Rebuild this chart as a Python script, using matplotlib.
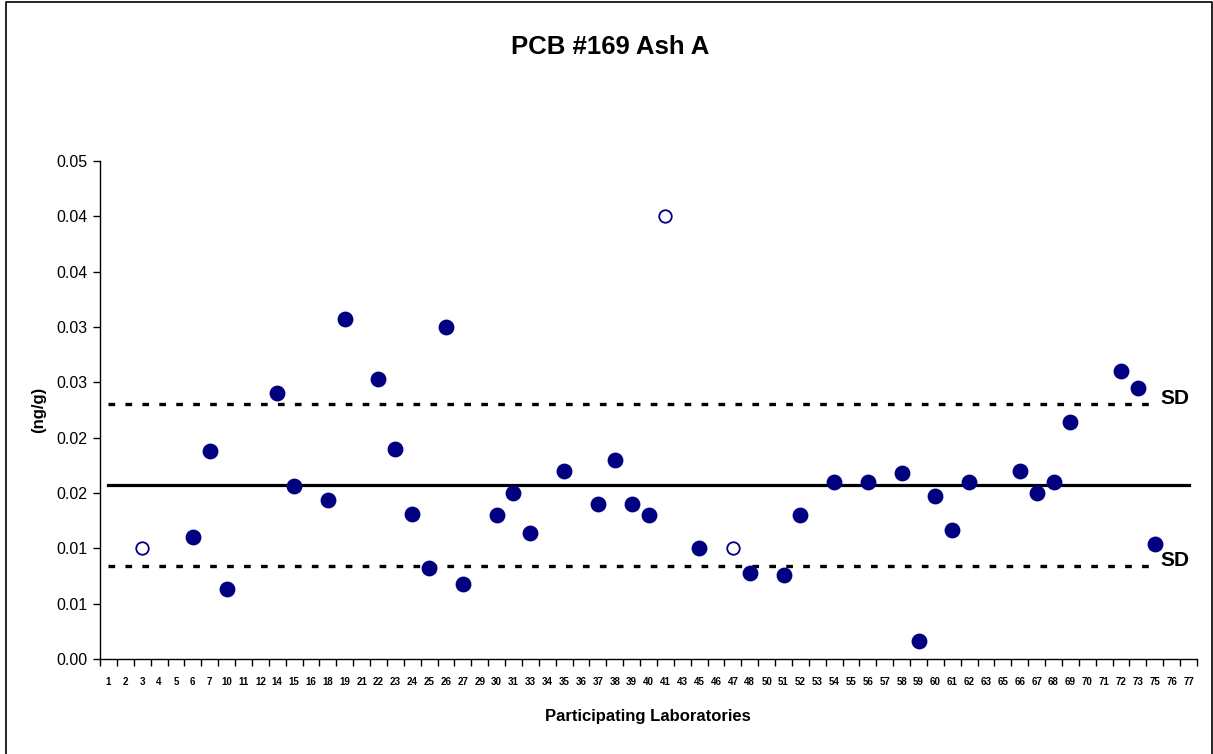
import numpy as np
import matplotlib
matplotlib.use("Agg")
import matplotlib.pyplot as plt
from matplotlib.lines import Line2D

plt.rcParams['font.family'] = ['Liberation Sans', 'DejaVu Sans']
plt.rcParams['lines.scale_dashes'] = False

# participating laboratory codes along the x axis
labs = ['1', '2', '3', '4', '5', '6', '7', '10', '11', '12', '14', '15', '16', '18',
        '19', '21', '22', '23', '24', '25', '26', '27', '29', '30', '31', '33', '34',
        '35', '36', '37', '38', '39', '40', '41', '43', '45', '46', '47', '48', '50',
        '51', '52', '53', '54', '55', '56', '57', '58', '59', '60', '61', '62', '63',
        '65', '66', '67', '68', '69', '70', '71', '72', '73', '75', '76', '77']

# reported results (ng/g)
used_labs = ['6', '7', '10', '14', '15', '18', '19', '22', '23', '24', '25', '26', '27',
             '30', '31', '33', '35', '37', '38', '39', '40', '45', '48', '51', '52', '54',
             '56', '58', '59', '60', '61', '62', '66', '67', '68', '69', '72', '73', '75']
used_vals = [0.0110, 0.0188, 0.0063, 0.0240, 0.0156, 0.0144, 0.0307, 0.0253, 0.0190,
             0.0131, 0.0082, 0.0300, 0.0068, 0.0130, 0.0150, 0.0114, 0.0170, 0.0140,
             0.0180, 0.0140, 0.0130, 0.0100, 0.0078, 0.0076, 0.0130, 0.0160, 0.0160,
             0.0168, 0.0016, 0.0147, 0.0117, 0.0160, 0.0170, 0.0150, 0.0160, 0.0214,
             0.0260, 0.0245, 0.0104]

# results excluded from the statistics
excl_labs = ['3', '41', '47']
excl_vals = [0.0100, 0.0400, 0.0100]

mean_val = 0.01573
sd_upper = 0.0230
sd_lower = 0.00837

yticks = [0.000, 0.005, 0.010, 0.015, 0.020, 0.025, 0.030, 0.035, 0.040, 0.045]
ytick_labels = ['0.00', '0.01', '0.01', '0.02', '0.02', '0.03', '0.03', '0.04', '0.04', '0.05']

navy = '#000080'

fig = plt.figure(figsize=(12.13, 7.54), dpi=100)
ax = fig.add_axes([100 / 1213, 1 - 659 / 754, 1097 / 1213, 498 / 754])

pos = {lab: i for i, lab in enumerate(labs)}
x_used = [pos[l] for l in used_labs]
x_excl = [pos[l] for l in excl_labs]
last = pos['75']

ax.plot([0, len(labs) - 1], [mean_val, mean_val], color='black', lw=2.3, zorder=2)
for sd in (sd_upper, sd_lower):
    ax.plot([0, last], [sd, sd], color='black', lw=2.4, dashes=(4.8, 7.4),
            solid_capstyle='butt', dash_capstyle='butt', zorder=2)
    ax.text(last + 0.35, sd, 'SD', fontsize=15, fontweight='bold', ha='left',
            va='baseline', zorder=3)

ax.plot(x_used, used_vals, 'o', color=navy, ms=10.4, mec=navy, zorder=4)
ax.plot(x_excl, excl_vals, 'o', mfc='white', mec=navy, ms=9.0, mew=1.3, zorder=4)

ax.set_xlim(-0.5, len(labs) - 0.5)
ax.set_ylim(0, 0.045)

# ticks sit between categories, labels sit under the categories
ax.set_xticks(np.arange(-0.5, len(labs), 1.0))
ax.set_xticklabels([])
ax.set_xticks(np.arange(len(labs)), minor=True)
ax.set_xticklabels(labs, minor=True, fontsize=7, fontweight='bold')
ax.tick_params(axis='x', which='major', direction='out', length=5, width=1)
ax.tick_params(axis='x', which='minor', length=0, pad=13)

ax.set_yticks(yticks)
ax.set_yticklabels(ytick_labels, fontsize=11.5)
ax.tick_params(axis='y', direction='out', length=5, width=1, pad=4)

for side in ('top', 'right'):
    ax.spines[side].set_visible(False)
for side in ('left', 'bottom'):
    ax.spines[side].set_linewidth(1)

fig.text(610 / 1213, 1 - 47 / 754, 'PCB #169 Ash A', fontsize=18.5, fontweight='bold',
         ha='center', va='center')
fig.text(648 / 1213, 1 - 717 / 754, 'Participating Laboratories', fontsize=12,
         fontweight='bold', ha='center', va='center')
fig.text(39 / 1213, 1 - 410 / 754, '(ng/g)', fontsize=12, fontweight='bold',
         rotation=90, ha='center', va='center')

# chart frame: left, top and right edges
fx = [5.5 / 1213, 5.5 / 1213, 1211.5 / 1213, 1211.5 / 1213]
fy = [0.0, 1 - 1.5 / 754, 1 - 1.5 / 754, 0.0]
fig.add_artist(Line2D(fx, fy, transform=fig.transFigure, color='black', lw=1.2))

fig.savefig('out.png', dpi=100)
